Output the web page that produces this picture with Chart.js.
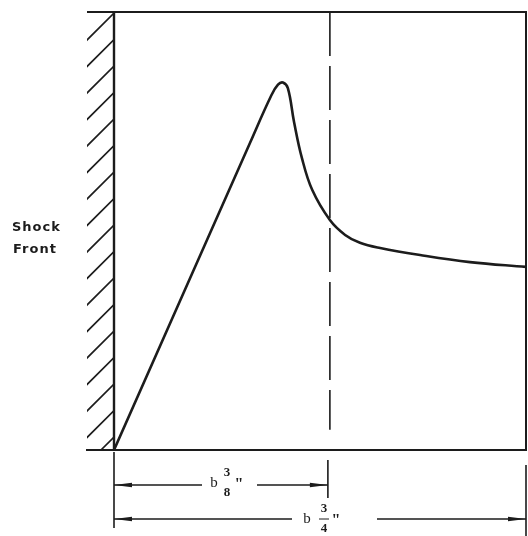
<!DOCTYPE html>
<html>
<head>
<meta charset="utf-8">
<script src="https://cdn.jsdelivr.net/npm/chart.js@4"></script>
<style>
  body { margin: 0; background: #fff; }
  #wrap { width: 528px; height: 536px; position: relative; }
</style>
</head>
<body>
<div id="wrap"><canvas id="shockChart" width="528" height="536"></canvas></div>
<script>
// distance behind the shock front (0..100 = b 3/4") and relative amplitude
const distance = [0, 33.0, 38.2, 39.8, 41.0, 42.2, 43.7, 45.6, 48.1, 52.4, 56.1, 59.7, 64.6, 74.3, 86.4, 100];
const amplitude = [0, 70.1, 81.0, 83.4, 83.9, 82.6, 74.9, 66.7, 59.4, 52.5, 49.1, 47.3, 46.1, 44.5, 42.9, 41.8];

// dashed marker at b 3/8"
const markerX = [52.4, 52.4];
const markerY = [100, 4.6];

const dimLabels = [['b', '3', '8'], ['b', '3', '4']];

const ink = '#1c1c1c';

const pts = (xs, ys) => xs.map((x, i) => ({ x: x, y: ys[i] }));

// frame, wall hatching, side label and dimension arrows
const decor = {
    id: 'decor',
    afterDraw(chart) {
        const c = chart.ctx;
        const a = chart.chartArea;
        const xs = chart.scales.x;
        c.save();
        c.strokeStyle = ink;
        c.fillStyle = ink;

        // hatching left of the wall
        c.lineWidth = 1.6;
        c.beginPath();
        c.rect(a.left - 27, a.top, 27, a.bottom - a.top);
        c.clip();
        c.beginPath();
        for (let y = a.top + 1; y < a.bottom + 30; y += 26.5) {
            c.moveTo(a.left, y);
            c.lineTo(a.left - 28, y + 28);
        }
        c.stroke();
        c.restore();
        c.save();
        c.strokeStyle = ink;
        c.fillStyle = ink;

        // frame
        c.lineWidth = 2;
        c.beginPath();
        c.moveTo(a.left - 27, a.top);
        c.lineTo(a.right, a.top);
        c.lineTo(a.right, a.bottom);
        c.lineTo(a.left - 28, a.bottom);
        c.stroke();
        c.lineWidth = 2.4;
        c.beginPath();
        c.moveTo(a.left, a.top);
        c.lineTo(a.left, a.bottom);
        c.stroke();

        // side label
        c.font = 'bold 13px "DejaVu Sans"';
        c.letterSpacing = '1px';
        c.textAlign = 'left';
        c.textBaseline = 'middle';
        c.fillText('Shock', 12, 228);
        c.fillText('Front', 13, 250);
        c.letterSpacing = '0px';

        // dimension ticks
        const x0 = xs.getPixelForValue(0);
        const x1 = xs.getPixelForValue(markerX[0]) - 2;
        const x2 = xs.getPixelForValue(100);
        c.lineWidth = 1.6;
        c.beginPath();
        c.moveTo(x0, a.bottom + 2); c.lineTo(x0, a.bottom + 78);
        c.moveTo(x1, a.bottom + 10); c.lineTo(x1, a.bottom + 48);
        c.moveTo(x2, a.bottom + 15); c.lineTo(x2, 536);
        c.stroke();

        const arrowHead = (x, y, dir) => {
            c.beginPath();
            c.moveTo(x, y);
            c.lineTo(x + dir * 18, y - 2.2);
            c.lineTo(x + dir * 18, y + 2.2);
            c.closePath();
            c.fill();
        };
        const dimLine = (xa, xb, y, gapA, gapB) => {
            c.lineWidth = 1.4;
            c.beginPath();
            c.moveTo(xa, y); c.lineTo(gapA, y);
            c.moveTo(gapB, y); c.lineTo(xb, y);
            c.stroke();
            arrowHead(xa, y, 1);
            arrowHead(xb, y, -1);
        };
        const fracLabel = (lab, xb, xf, y, bar) => {
            c.textAlign = 'center';
            c.textBaseline = 'middle';
            c.font = '15px "Liberation Serif"';
            c.fillText(lab[0], xb, y);
            c.font = 'bold 13px "Liberation Serif"';
            c.fillText(lab[1], xf, y - 10);
            c.fillText(lab[2], xf, y + 10);
            if (bar) {
                c.lineWidth = 1;
                c.beginPath();
                c.moveTo(xf - 5, y); c.lineTo(xf + 5, y);
                c.stroke();
            }
            c.font = 'bold 16px "Liberation Serif"';
            c.fillText('"', xf + 12, y + 2);
        };

        const y1 = a.bottom + 35;
        dimLine(x0, x1, y1, 202, 257);
        fracLabel(dimLabels[0], 214, 227, y1 - 2, false);

        const y2 = a.bottom + 69;
        dimLine(x0, x2, y2, 292, 377);
        fracLabel(dimLabels[1], 307, 324, y2, true);

        c.restore();
    }
};

new Chart(document.getElementById('shockChart'), {
    type: 'scatter',
    data: {
        datasets: [
            {
                data: pts(distance, amplitude),
                showLine: true,
                borderColor: ink,
                borderWidth: 2.6,
                pointRadius: 0,
                tension: 0.4,
                fill: false
            },
            {
                data: pts(markerX, markerY),
                showLine: true,
                borderColor: ink,
                borderWidth: 1.6,
                borderDash: [44, 10],
                pointRadius: 0
            }
        ]
    },
    options: {
        responsive: false,
        animation: false,
        layout: { padding: { left: 114, right: 2, top: 12, bottom: 86 } },
        plugins: { legend: { display: false }, tooltip: { enabled: false } },
        scales: {
            x: { type: 'linear', min: 0, max: 100, display: false },
            y: { type: 'linear', min: 0, max: 100, display: false }
        }
    },
    plugins: [decor]
});
</script>
</body>
</html>
